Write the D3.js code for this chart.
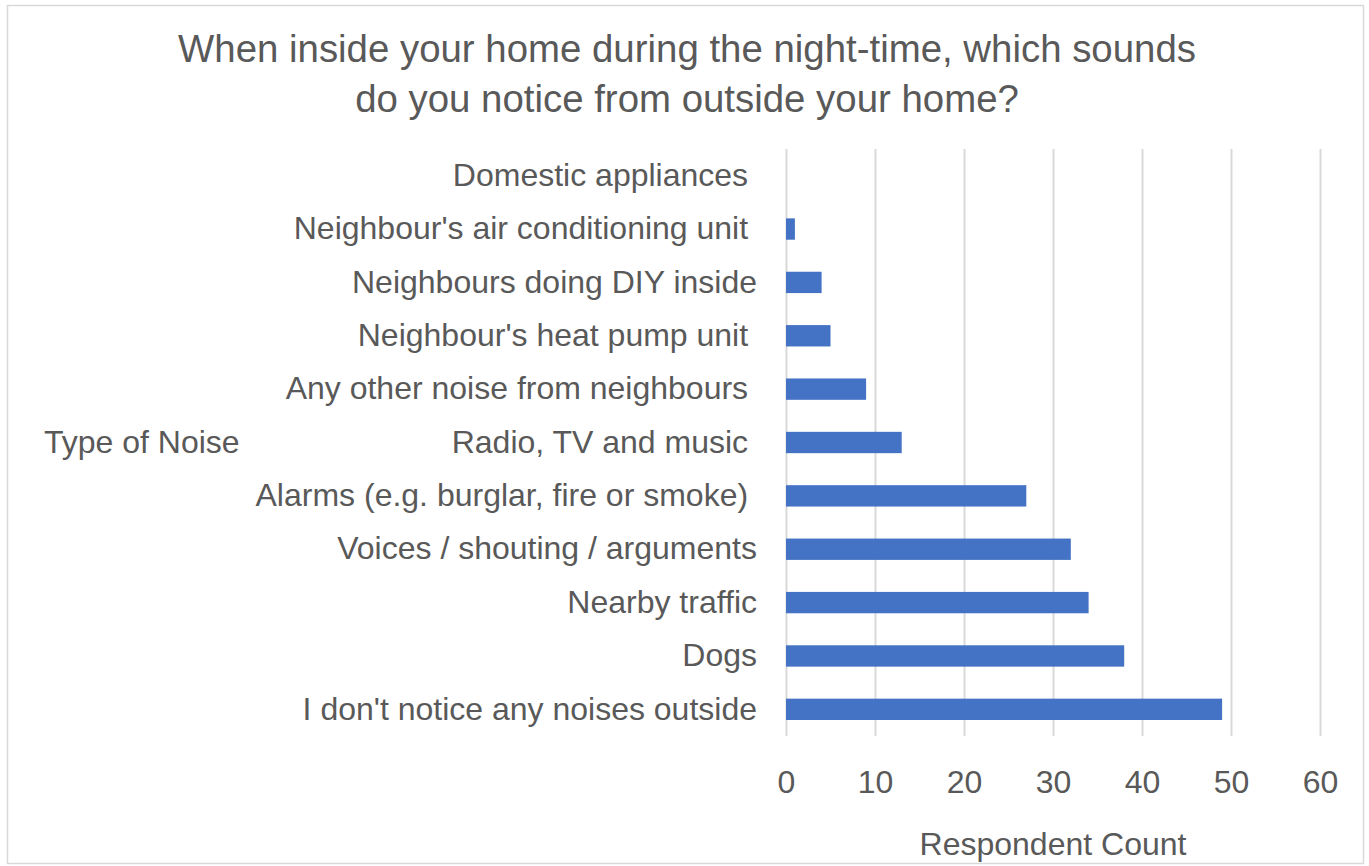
<!DOCTYPE html>
<html>
<head>
<meta charset="utf-8">
<script src="https://cdn.jsdelivr.net/npm/d3@7"></script>
<style>
  body { margin: 0; background: #fff; }
  text { font-family: "Liberation Sans", Arial, sans-serif; fill: #595959; white-space: pre; }
</style>
</head>
<body>
<div id="chart"></div>
<script>
// categories, top to bottom (some have trailing spaces as in the source)
const categories = [
    "Domestic appliances ",
    "Neighbour's air conditioning unit ",
    "Neighbours doing DIY inside",
    "Neighbour's heat pump unit ",
    "Any other noise from neighbours ",
    "Radio, TV and music ",
    "Alarms (e.g. burglar, fire or smoke) ",
    "Voices / shouting / arguments",
    "Nearby traffic",
    "Dogs",
    "I don't notice any noises outside"
];
const counts = [0, 1, 4, 5, 9, 13, 27, 32, 34, 38, 49];
const xTicks = [0, 10, 20, 30, 40, 50, 60];
const titleLines = [
    "When inside your home during the night-time, which sounds",
    "do you notice from outside your home?"
];

const W = 1369, H = 866;
const margin = { top: 149, right: 49, bottom: 130, left: 786 };
const width = W - margin.left - margin.right;
const height = H - margin.top - margin.bottom;
const fontSize = 32;

const svg = d3.select('#chart').append('svg')
    .attr('width', W)
    .attr('height', H);

// outer border
svg.append('rect')
    .attr('x', 7.5).attr('y', 5.5)
    .attr('width', 1356).attr('height', 858)
    .attr('fill', '#fff')
    .attr('stroke', '#d9d9d9')
    .attr('stroke-width', 1.5);

const plot = svg.append('g')
    .attr('transform', `translate(${margin.left},${margin.top})`);

const x = d3.scaleLinear()
    .domain([0, 60])
    .range([0, width]);

const y = d3.scaleBand()
    .domain(categories)
    .range([0, height])
    .paddingInner(0.6)
    .paddingOuter(0.3);

// vertical grid lines
plot.append('g')
    .call(d3.axisBottom(x).tickValues(xTicks).tickSize(height).tickFormat(''))
    .call(g => g.select('.domain').remove())
    .call(g => g.selectAll('.tick line').attr('stroke', '#d9d9d9').attr('stroke-width', 2));

// x tick labels
plot.append('g')
    .attr('transform', `translate(0,${height})`)
    .call(d3.axisBottom(x).tickValues(xTicks).tickSize(0).tickPadding(34))
    .call(g => g.select('.domain').remove())
    .call(g => g.selectAll('text')
        .style('font-size', fontSize + 'px')
        .style('font-family', '"Liberation Sans", Arial, sans-serif')
        .attr('fill', '#595959'));

// category labels
plot.append('g')
    .call(d3.axisLeft(y).tickSize(0).tickPadding(29))
    .call(g => g.select('.domain').remove())
    .call(g => g.selectAll('text')
        .style('font-size', fontSize + 'px')
        .style('font-family', '"Liberation Sans", Arial, sans-serif')
        .attr('fill', '#595959'));

// bars
plot.selectAll('.bar')
    .data(categories)
    .enter()
    .append('rect')
    .attr('class', 'bar')
    .attr('x', x(0))
    .attr('y', d => y(d))
    .attr('height', y.bandwidth())
    .attr('width', (d, i) => x(counts[i]) - x(0))
    .style('fill', '#4472c4');

// title
svg.append('text')
    .attr('x', 687)
    .attr('y', 62)
    .attr('text-anchor', 'middle')
    .style('font-size', '38.4px')
    .selectAll('tspan')
    .data(titleLines)
    .enter()
    .append('tspan')
    .attr('x', 687)
    .attr('dy', (d, i) => i === 0 ? 0 : 50)
    .text(d => d);

// axis titles
svg.append('text')
    .attr('x', margin.left + width / 2)
    .attr('y', 855)
    .attr('text-anchor', 'middle')
    .style('font-size', fontSize + 'px')
    .text('Respondent Count');

svg.append('text')
    .attr('x', 44)
    .attr('y', 453)
    .style('font-size', fontSize + 'px')
    .text('Type of Noise');
</script>
</body>
</html>
